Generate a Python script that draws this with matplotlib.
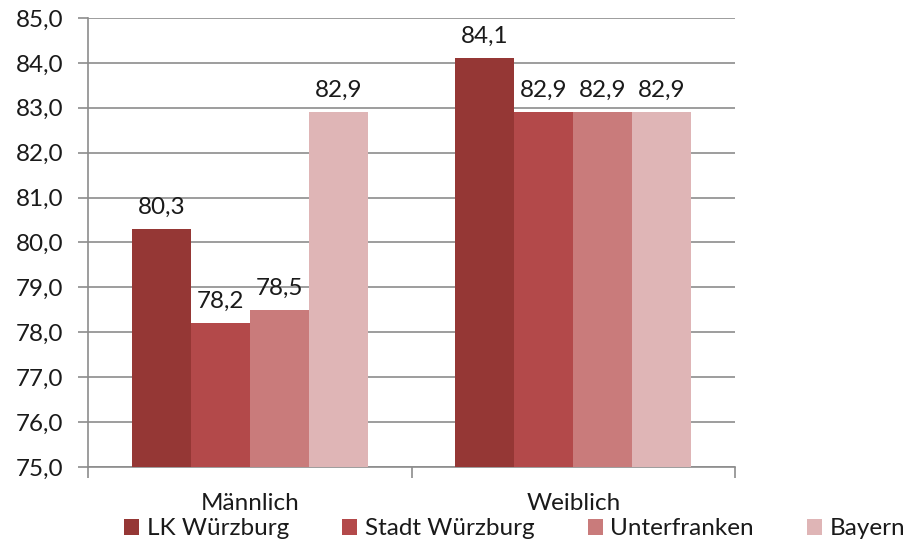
import numpy as np
import matplotlib.pyplot as plt

plt.rcParams['font.family'] = ['Lato', 'DejaVu Sans']

categories = ['Männlich', 'Weiblich']
series = ['LK Würzburg', 'Stadt Würzburg', 'Unterfranken', 'Bayern']
values = [
    [80.3, 84.1],
    [78.2, 82.9],
    [78.5, 82.9],
    [82.9, 82.9],
]
colors = ['#953735', '#B3494A', '#C97B7B', '#DFB5B6']

fs = 17.5

fig = plt.figure(figsize=(9.12, 5.44), dpi=100)
ax = fig.add_axes([0.0965, 0.1415, 0.7095, 0.8255])

x = np.arange(len(categories))
w = 0.1825
for i, (name, vals) in enumerate(zip(series, values)):
    pos = x + (i - 1.5) * w
    ax.bar(pos, vals, width=w, bottom=0, color=colors[i], label=name, zorder=3)
    for xp, v in zip(pos, vals):
        ax.annotate(f'{v:.1f}'.replace('.', ','), (xp, v), xytext=(0, 8),
                    textcoords='offset points', ha='center', va='bottom',
                    fontsize=fs, color='#1a1a1a', zorder=4)

ax.set_xlim(-0.5, 1.5)
ax.set_ylim(75, 85)
yt = np.arange(75, 85.1, 1)
ax.set_yticks(yt)
ax.set_yticklabels([f'{t:.1f}'.replace('.', ',') for t in yt])
ax.yaxis.grid(True, color='#8c8c8c', linewidth=1.2, zorder=0)
ax.set_axisbelow(True)

ax.set_xticks(x)
ax.set_xticklabels(categories)
ax.set_xticks([-0.5, 0.5, 1.5], minor=True)
ax.tick_params(axis='x', which='major', length=0, pad=19, labelsize=fs, labelcolor='#1a1a1a')
ax.tick_params(axis='x', which='minor', length=8, color='#8c8c8c', width=1.2)
ax.tick_params(axis='y', length=7, color='#8c8c8c', width=1.2, labelsize=fs, pad=11,
               labelcolor='#1a1a1a')

for s in ['top', 'right']:
    ax.spines[s].set_visible(False)
for s in ['left', 'bottom']:
    ax.spines[s].set_color('#8c8c8c')
    ax.spines[s].set_linewidth(1.2)

fig.legend(loc='lower left', bbox_to_anchor=(0.123, -0.014), ncol=4, frameon=False,
           fontsize=fs, handlelength=0.62, handleheight=0.62, handletextpad=0.3,
           columnspacing=2.2, borderpad=0, labelcolor='#1a1a1a')

fig.savefig('out.png', dpi=100)
